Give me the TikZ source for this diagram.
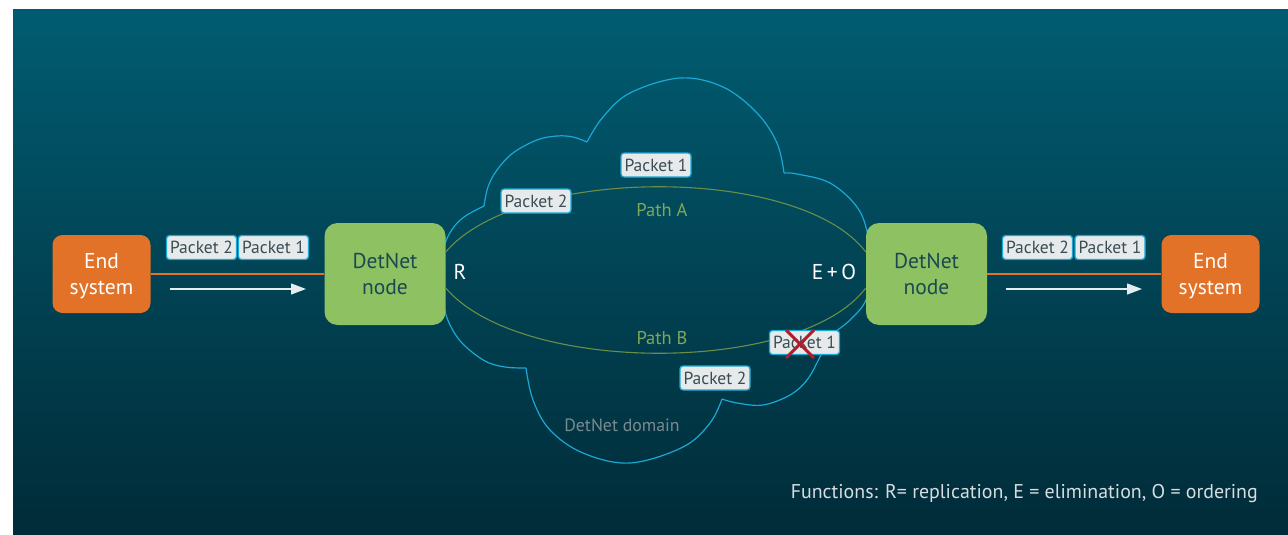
\documentclass[tikz,border=0pt]{standalone}
\usepackage{fontspec}
\setmainfont{PT Sans}
\usetikzlibrary{arrows.meta}
\definecolor{bgtop}{RGB}{1,92,113}
\definecolor{bgbot}{RGB}{1,43,56}
\definecolor{esorange}{RGB}{226,114,40}
\definecolor{nodegreen}{RGB}{141,193,98}
\definecolor{nodetext}{RGB}{28,72,82}
\definecolor{cyanline}{RGB}{26,168,212}
\definecolor{packfill}{RGB}{230,234,235}
\definecolor{packtext}{RGB}{58,76,84}
\definecolor{pathgreen}{RGB}{106,142,74}
\definecolor{pathlab}{RGB}{126,168,88}
\definecolor{domlab}{RGB}{122,138,145}
\definecolor{arrowwhite}{RGB}{228,236,238}
\definecolor{functext}{RGB}{214,222,225}
\definecolor{redx}{RGB}{176,30,45}
\tikzset{
  endsys/.style={fill=esorange, rounded corners=10pt, minimum width=98pt, minimum height=78pt,
    text=white, align=center, inner sep=0pt, text depth=0pt, font=\fontsize{21.5}{26}\selectfont},
  detnet/.style={fill=nodegreen, rounded corners=13pt, minimum width=121pt, minimum height=102pt,
    text=nodetext, align=center, inner sep=0pt, text depth=0pt, font=\fontsize{21.5}{26}\selectfont},
  packet/.style={draw=cyanline, line width=1.3pt, fill=packfill, rounded corners=3pt,
    minimum width=70pt, minimum height=24pt, inner sep=0pt, text=packtext,
    font=\fontsize{17.5}{18}\selectfont},
  cloudline/.style={draw=cyanline, line width=1.2pt, line join=round},
  pathline/.style={draw=pathgreen, line width=1.1pt},
  orangeline/.style={draw=esorange, line width=1.1pt},
  flowarrow/.style={draw=arrowwhite, line width=1.3pt, -{Triangle[length=15pt,width=11pt]}},
  funclab/.style={text=white, inner sep=0pt, font=\fontsize{21.5}{24}\selectfont},
  pathtext/.style={text=pathlab, inner sep=0pt, font=\fontsize{18.5}{20}\selectfont},
  domtext/.style={text=domlab, inner sep=0pt, font=\fontsize{17.8}{20}\selectfont},
  legend/.style={text=functext, inner sep=0pt, font=\fontsize{19.9}{22}\selectfont},
  crossline/.style={draw=redx, line width=3pt}
}
\begin{document}
\begin{tikzpicture}[x=1pt,y=-1pt]
\useasboundingbox (0,0) rectangle (1288,535);
\shade[top color=bgtop, bottom color=bgbot] (13,10) rectangle (1288,535);

% cloud (DetNet domain)
\draw[cloudline] plot[smooth, tension=0.6] coordinates {(526,368) (505,367) (485,361) (463,344) (450,325) (443,303) (440,275) (443,250) (451,231) (464,217) (484,206)};
\draw[cloudline] plot[smooth, tension=0.6] coordinates {(484,206) (488,187) (497,170) (513,153) (537,140) (557,136) (573,137) (587,142)};
\draw[cloudline] plot[smooth, tension=0.6] coordinates {(587,142) (603,117) (630,93) (680,78) (723,87) (757,113) (777,143) (784,173)};
\draw[cloudline] plot[smooth, tension=0.6] coordinates {(784,173) (797,174) (830,183) (857,207) (868,235) (872,268) (866,300) (850,320) (830,337) (820,357) (807,380) (790,395) (763,405) (737,403) (722,399)};
\draw[cloudline] plot[smooth, tension=0.6] coordinates {(722,399) (710,423) (683,447) (630,463) (583,453) (550,430) (533,400) (526,368)};

% nodes
\node[endsys] (es1) at (101.5,274) {End\\system};
\node[detnet] (dn1) at (385,274) {DetNet\\node};
\node[detnet] (dn2) at (926.5,274) {DetNet\\node};
\node[endsys] (es2) at (1210.5,274) {End\\system};

% paths A and B
\draw[pathline] ([yshift=22pt]dn1.east) .. controls (520,165) and (800,165) .. ([yshift=22pt]dn2.west);
\draw[pathline] ([yshift=-14pt]dn1.east) .. controls (520,375) and (800,375) .. ([yshift=-14pt]dn2.west);

% links to end systems
\draw[orangeline] (es1.east) -- (dn1.west);
\draw[orangeline] (dn2.east) -- (es2.west);

% flow arrows
\coordinate (f1s) at (170,289);
\coordinate (f1e) at (306,289);
\coordinate (f2s) at (1006,289);
\coordinate (f2e) at (1142,289);
\draw[flowarrow] (f1s) -- (f1e);
\draw[flowarrow] (f2s) -- (f2e);

% packets
\node[packet] (lp2) at (201.5,247.5) {Packet 2};
\node[packet] (lp1) at (273.5,247.5) {Packet 1};
\node[packet] (rp2) at (1037.5,247.5) {Packet 2};
\node[packet] (rp1) at (1110,247.5) {Packet 1};
\node[packet] (ap1) at (656,165) {Packet 1};
\node[packet] (ap2) at (536,201) {Packet 2};
\node[packet] (bp2) at (715,378) {Packet 2};
\node[packet] (bp1) at (804.5,342.5) {Packet 1};

% dropped packet cross
\draw[crossline] (786,330) -- (814,358);
\draw[crossline] (814,330) -- (786,358);

% labels
\node[funclab] (rlab) at (460,272) {R};
\node[funclab] (eolab) at (834,272) {E\,+\,O};
\node[pathtext] (palab) at (662,210) {Path A};
\node[pathtext] (pblab) at (662,338) {Path B};
\node[domtext] (domlab) at (622,425) {DetNet domain};
\node[legend, anchor=east] (leg) at (1258,494) {Functions: R= replication, E = elimination, O = ordering};
\end{tikzpicture}
\end{document}
